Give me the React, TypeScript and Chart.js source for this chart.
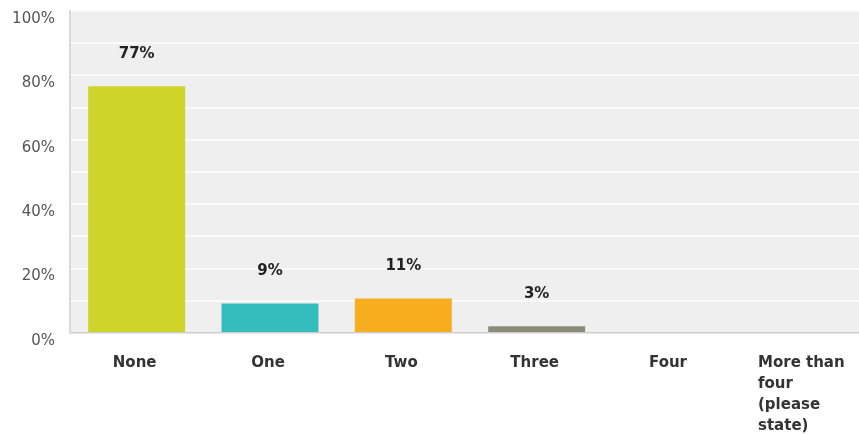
import React, { useEffect, useRef } from "react";
import { Chart, registerables } from "chart.js";

Chart.register(...registerables);

const categories: (string | string[])[] = [
  "None",
  "One",
  "Two",
  "Three",
  "Four",
  ["More than", "four", "(please", "state)"],
];
const values = [76.6, 9.2, 10.7, 2.1, 0, 0];
const valueLabels = ["77%", "9%", "11%", "3%", "", ""];
const barColors = ["#CFD42A", "#33BDBD", "#F6AE1F", "#8B8C78", "#999999", "#999999"];
const yTickStep = 10;
const yLabelEvery = 20;

const BOLD_FONT = 'bold 15px "DejaVu Sans"';

const bgPlugin = {
  id: "plotBg",
  beforeDraw(chart: any) {
    const { ctx, chartArea } = chart;
    ctx.save();
    ctx.fillStyle = "#EFEFEF";
    ctx.fillRect(chartArea.left, chartArea.top, chartArea.right - chartArea.left, chartArea.bottom - chartArea.top);
    ctx.restore();
  },
};

const labelsPlugin = {
  id: "customLabels",
  afterDraw(chart: any) {
    const { ctx, chartArea } = chart;
    const xScale = chart.scales.x;
    ctx.save();
    ctx.font = BOLD_FONT;
    ctx.fillStyle = "#333333";
    ctx.textBaseline = "middle";
    ctx.textAlign = "left";
    categories.forEach((lab, i) => {
      const lines = Array.isArray(lab) ? lab : [lab];
      const cx = xScale.getPixelForValue(i) - 2;
      const maxW = Math.max(...lines.map((l) => ctx.measureText(l).width));
      const left = cx - maxW / 2;
      lines.forEach((l, j) => {
        ctx.fillText(l, left, chartArea.bottom + 30 + j * 21);
      });
    });
    const meta = chart.getDatasetMeta(0);
    ctx.fillStyle = "#222222";
    ctx.textAlign = "center";
    meta.data.forEach((bar: any, i: number) => {
      const t = valueLabels[i];
      if (!t) return;
      ctx.fillText(t, bar.x, bar.y - 32);
    });
    ctx.restore();
  },
};

export default function App() {
  const ref = useRef<HTMLCanvasElement | null>(null);
  useEffect(() => {
    document.body.style.margin = "0";
    document.body.style.overflow = "hidden";
    if (!ref.current) return;
    const chart = new Chart(ref.current, {
      type: "bar",
      data: {
        labels: categories as any,
        datasets: [
          {
            data: values,
            backgroundColor: barColors,
            borderWidth: 0,
            barPercentage: 0.727,
            categoryPercentage: 1,
          },
        ],
      },
      options: {
        animation: false,
        responsive: false,
        maintainAspectRatio: false,
        layout: { padding: { top: 11, right: 10, left: 0, bottom: 0 } },
        plugins: { legend: { display: false }, tooltip: { enabled: false } },
        scales: {
          x: {
            grid: { display: false },
            border: { display: true, color: "#D0D0D0", width: 1.5 },
            ticks: { display: false },
            afterFit: (s: any) => {
              s.height = 101;
              s.paddingLeft = 0;
              s.paddingRight = 0;
            },
          },
          y: {
            min: 0,
            max: 100,
            afterFit: (s: any) => {
              s.width = 70;
              s.paddingTop = 0;
              s.paddingBottom = 0;
            },
            border: { display: true, color: "#DADADA", width: 2 },
            grid: { color: "#FAFAFA", lineWidth: 2, drawTicks: false },
            ticks: {
              stepSize: yTickStep,
              padding: 15,
              labelOffset: 8,
              color: "#555555",
              font: { family: '"DejaVu Sans"', size: 15 },
              callback: (v: any) => (Number(v) % yLabelEvery === 0 ? v + "%" : ""),
            },
          },
        },
      },
      plugins: [bgPlugin, labelsPlugin],
    });
    return () => chart.destroy();
  }, []);
  return (
    <div style={{ width: 880, height: 434, position: "relative" }}>
      <canvas ref={ref} width={880} height={434} style={{ width: 880, height: 434, display: "block" }} />
    </div>
  );
}
